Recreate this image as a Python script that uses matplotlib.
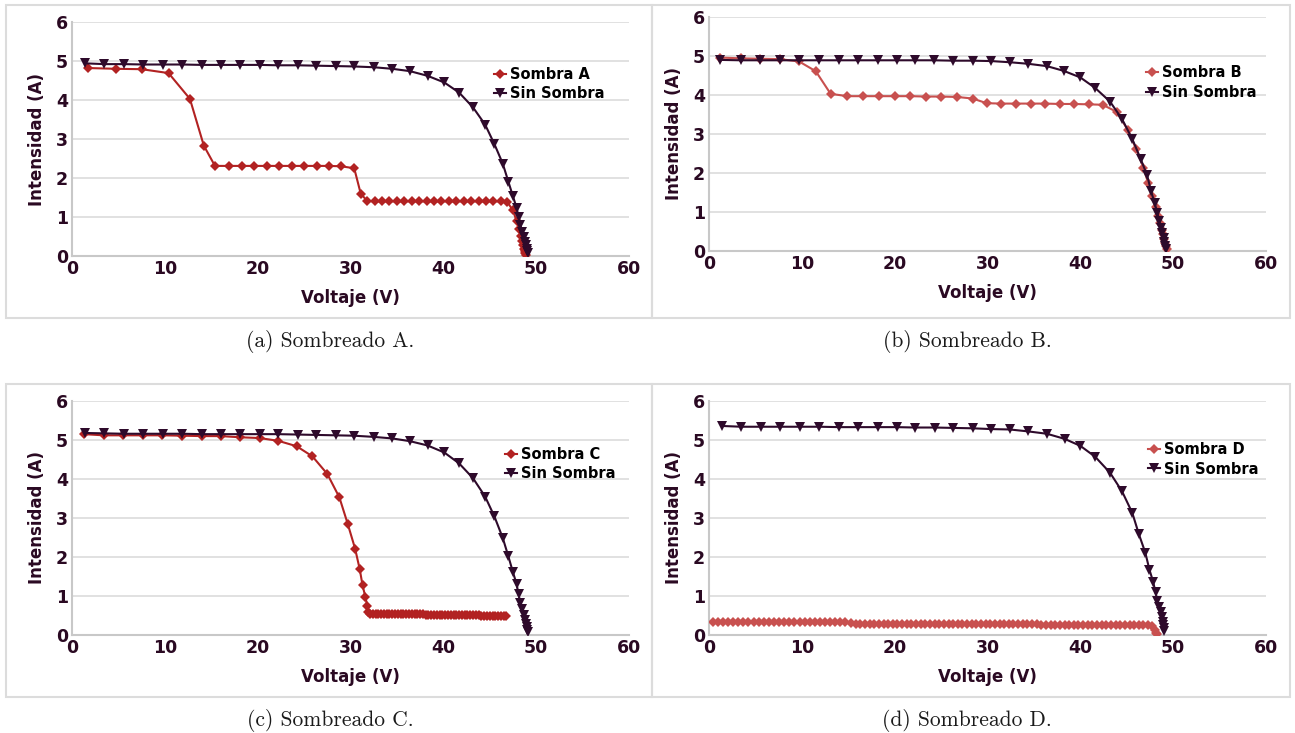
import matplotlib
matplotlib.use("Agg")
import matplotlib.pyplot as plt
from matplotlib.patches import Rectangle

# Curvas I-V: tensión (V) e intensidad (A)

# Sin sombra (referencia) de cada ensayo
v_sin_a = [1.4, 3.5, 5.6, 7.7, 9.8, 11.9, 14.0, 16.1, 18.1, 20.2, 22.2, 24.3, 26.3, 28.4, 30.4, 32.5,
           34.5, 36.4, 38.3, 40.1, 41.7, 43.2, 44.5, 45.5, 46.4, 47.0, 47.5, 47.9, 48.1, 48.3, 48.5,
           48.7, 48.8, 48.9, 49.0, 49.05, 49.1]
i_sin_a = [4.94, 4.92, 4.92, 4.91, 4.91, 4.91, 4.90, 4.90, 4.90, 4.90, 4.89, 4.89, 4.88, 4.87, 4.86,
           4.84, 4.80, 4.74, 4.62, 4.45, 4.19, 3.81, 3.37, 2.87, 2.37, 1.91, 1.53, 1.23, 1.00, 0.79,
           0.62, 0.49, 0.37, 0.27, 0.19, 0.13, 0.08]

v_sin_b = [1.2, 3.4, 5.5, 7.6, 9.7, 11.8, 14.0, 16.0, 18.2, 20.2, 22.2, 24.2, 26.3, 28.4, 30.4, 32.4,
           34.4, 36.4, 38.2, 40.0, 41.6, 43.2, 44.5, 45.6, 46.5, 47.2, 47.6, 48.0, 48.3, 48.5, 48.7,
           48.8, 49.0, 49.05, 49.1, 49.2]
i_sin_b = [4.90, 4.89, 4.89, 4.89, 4.89, 4.89, 4.89, 4.89, 4.89, 4.89, 4.89, 4.89, 4.88, 4.88, 4.87,
           4.84, 4.80, 4.74, 4.62, 4.45, 4.18, 3.83, 3.38, 2.87, 2.36, 1.94, 1.55, 1.23, 0.98, 0.77,
           0.60, 0.47, 0.34, 0.24, 0.14, 0.06]

v_sin_c = [1.4, 3.5, 5.6, 7.7, 9.8, 11.9, 14.0, 16.1, 18.1, 20.2, 22.2, 24.3, 26.3, 28.4, 30.4, 32.5,
           34.5, 36.4, 38.3, 40.1, 41.7, 43.2, 44.5, 45.5, 46.4, 47.0, 47.5, 47.9, 48.1, 48.3, 48.5,
           48.7, 48.8, 48.9, 49.0, 49.05, 49.1]
i_sin_c = [5.18, 5.17, 5.16, 5.16, 5.16, 5.16, 5.15, 5.15, 5.15, 5.15, 5.15, 5.14, 5.13, 5.12, 5.11,
           5.08, 5.04, 4.97, 4.86, 4.68, 4.40, 4.02, 3.55, 3.04, 2.49, 2.02, 1.61, 1.30, 1.04, 0.83,
           0.66, 0.52, 0.39, 0.28, 0.20, 0.14, 0.08]

v_sin_d = [1.4, 3.5, 5.6, 7.7, 9.8, 11.9, 14.0, 16.0, 18.2, 20.2, 22.2, 24.3, 26.3, 28.4, 30.4, 32.4,
           34.4, 36.4, 38.3, 40.0, 41.6, 43.2, 44.5, 45.6, 46.3, 47.0, 47.45, 47.85, 48.1, 48.3, 48.5,
           48.65, 48.8, 48.9, 48.95, 49.0, 49.05]
i_sin_d = [5.36, 5.34, 5.34, 5.34, 5.34, 5.34, 5.33, 5.33, 5.33, 5.33, 5.32, 5.32, 5.31, 5.30, 5.28,
           5.27, 5.22, 5.16, 5.03, 4.85, 4.57, 4.16, 3.68, 3.13, 2.59, 2.11, 1.67, 1.36, 1.09, 0.88,
           0.71, 0.58, 0.45, 0.34, 0.25, 0.17, 0.10]

# Con sombra
v_a = [1.7, 4.7, 7.5, 10.4, 12.7, 14.2, 15.4, 16.9, 18.3, 19.6, 21.0, 22.3, 23.7, 25.0, 26.4, 27.7,
       29.0, 30.4, 31.1, 31.8, 32.6, 33.4, 34.2, 35.0, 35.8, 36.6, 37.4, 38.2, 39.0, 39.8, 40.6, 41.4,
       42.2, 43.0, 43.8, 44.6, 45.4, 46.2, 46.9, 47.5, 47.9, 48.2, 48.35, 48.5, 48.6, 48.7, 48.8,
       48.85, 48.9]
i_a = [4.82, 4.80, 4.79, 4.69, 4.03, 2.83, 2.31, 2.31, 2.31, 2.31, 2.31, 2.31, 2.31, 2.31, 2.31, 2.31,
       2.30, 2.25, 1.60, 1.41, 1.40, 1.40, 1.40, 1.40, 1.40, 1.40, 1.40, 1.40, 1.40, 1.40, 1.40, 1.40,
       1.40, 1.40, 1.40, 1.40, 1.40, 1.40, 1.38, 1.17, 0.89, 0.68, 0.51, 0.38, 0.27, 0.19, 0.12,
       0.07, 0.03]

v_b = [1.2, 3.4, 5.5, 7.6, 9.7, 11.5, 13.1, 14.9, 16.6, 18.3, 20.0, 21.7, 23.4, 25.0, 26.7, 28.4,
       29.9, 31.5, 33.1, 34.7, 36.2, 37.8, 39.3, 40.9, 42.4, 43.9, 45.1, 46.0, 46.8, 47.3, 47.7, 48.1,
       48.4, 48.6, 48.75, 48.9, 49.05, 49.1, 49.2, 49.3]
i_b = [4.96, 4.94, 4.93, 4.92, 4.86, 4.61, 4.03, 3.97, 3.97, 3.97, 3.97, 3.97, 3.96, 3.96, 3.95, 3.91,
       3.79, 3.78, 3.78, 3.78, 3.78, 3.77, 3.77, 3.76, 3.75, 3.57, 3.11, 2.62, 2.14, 1.74, 1.40, 1.13,
       0.89, 0.72, 0.55, 0.43, 0.32, 0.21, 0.13, 0.06]

v_c = [1.3, 3.4, 5.5, 7.6, 9.7, 11.9, 14.0, 16.0, 18.1, 20.2, 22.2, 24.2, 25.9, 27.5, 28.8, 29.7,
       30.5, 31.0, 31.3, 31.6, 31.8, 31.9,
       32.1, 32.4, 32.7, 33.0, 33.3, 33.6, 33.9, 34.2, 34.5, 34.8, 35.1, 35.4, 35.7, 36.0, 36.3, 36.6,
       36.9, 37.2, 37.5, 37.8, 38.1, 38.4, 38.7, 39.0, 39.3, 39.6, 39.9, 40.2, 40.5, 40.8, 41.1, 41.4,
       41.7, 42.0, 42.3, 42.6, 42.9, 43.2, 43.5, 43.8, 44.1, 44.4, 44.7, 45.0, 45.3, 45.6, 45.9, 46.2,
       46.5, 46.8]
i_c = [5.15, 5.12, 5.12, 5.12, 5.12, 5.11, 5.10, 5.10, 5.07, 5.05, 4.98, 4.84, 4.58, 4.13, 3.53, 2.85,
       2.21, 1.68, 1.27, 0.98, 0.75, 0.60,
       0.55, 0.54, 0.54, 0.54, 0.54, 0.54, 0.54, 0.54, 0.54, 0.53, 0.53, 0.53, 0.53, 0.53, 0.53, 0.53,
       0.53, 0.53, 0.53, 0.53, 0.52, 0.52, 0.52, 0.52, 0.52, 0.52, 0.52, 0.52, 0.52, 0.52, 0.51, 0.51,
       0.51, 0.51, 0.51, 0.51, 0.51, 0.51, 0.51, 0.51, 0.50, 0.50, 0.50, 0.50, 0.50, 0.50, 0.49, 0.49,
       0.49, 0.49]

v_d = [0.4, 0.95, 1.5, 2.05, 2.6, 3.15, 3.7, 4.25, 4.8, 5.35, 5.9, 6.45, 7.0, 7.55, 8.1, 8.65, 9.2,
       9.75, 10.3, 10.85, 11.4, 11.95, 12.5, 13.05, 13.6, 14.15, 14.7, 15.25,
       15.8, 16.3, 16.8, 17.3, 17.8, 18.3, 18.8, 19.3, 19.8, 20.3, 20.8, 21.3, 21.8, 22.3, 22.8, 23.3,
       23.8, 24.3, 24.8, 25.3, 25.8, 26.3, 26.8, 27.3, 27.8, 28.3, 28.8, 29.3, 29.8, 30.3, 30.8, 31.3,
       31.8, 32.3, 32.8, 33.3, 33.8, 34.3, 34.8, 35.3, 35.8, 36.3, 36.8, 37.3, 37.8, 38.3, 38.8, 39.3,
       39.8, 40.3, 40.8, 41.3, 41.8, 42.3, 42.8, 43.3, 43.8, 44.3, 44.8, 45.3, 45.8, 46.3, 46.8, 47.3,
       47.7, 48.0, 48.2, 48.3]
i_d = [0.345, 0.345, 0.345, 0.345, 0.345, 0.345, 0.34, 0.34, 0.34, 0.34, 0.34, 0.34, 0.34, 0.34,
       0.34, 0.34, 0.34, 0.34, 0.34, 0.34, 0.335, 0.335, 0.335, 0.335, 0.335, 0.335, 0.33, 0.31,
       0.28, 0.28, 0.28, 0.28, 0.275, 0.275, 0.275, 0.275, 0.275, 0.275, 0.275, 0.275, 0.275, 0.275,
       0.275, 0.275, 0.27, 0.27, 0.27, 0.27, 0.27, 0.27, 0.27, 0.27, 0.27, 0.27, 0.27, 0.27, 0.27,
       0.27, 0.27, 0.27, 0.27, 0.27, 0.27, 0.27, 0.27, 0.27, 0.27, 0.27, 0.265, 0.265, 0.265, 0.265,
       0.265, 0.265, 0.265, 0.265, 0.265, 0.265, 0.265, 0.265, 0.265, 0.265, 0.265, 0.265, 0.26, 0.26,
       0.26, 0.26, 0.26, 0.26, 0.26, 0.26,
       0.22, 0.14, 0.06, 0.03]

TXT = "#2a0922"
OSCURO = "#2e0a2b"
ROJO = "#b22222"
ROJO_CLARO = "#c8504f"
GRIS = "#d9d9d9"

fig = plt.figure(figsize=(12.95, 7.33), dpi=100)
W, H = 1295, 733

# Marcos grises alrededor de cada sub-figura (en pixeles)
for x0, y0, x1, y1 in [(5.5, 5, 651.5, 318), (651.5, 5, 1290, 318),
                       (5.5, 384, 651.5, 697), (651.5, 384, 1290, 697)]:
    fig.add_artist(Rectangle((x0 / W, 1 - y1 / H), (x1 - x0) / W, (y1 - y0) / H,
                             transform=fig.transFigure, fill=False, ec="#dcdcdc", lw=1.5))

paneles = [
    # (left px, top px, v, i, v_ref, i_ref, etiqueta, color, legend anchor, caption)
    (72, 22, v_a, i_a, v_sin_a, i_sin_a, "Sombra A", ROJO, (0.745, 0.84), "(a) Sombreado A."),
    (709, 17, v_b, i_b, v_sin_b, i_sin_b, "Sombra B", ROJO_CLARO, (0.772, 0.825), "(b) Sombreado B."),
    (72, 401, v_c, i_c, v_sin_c, i_sin_c, "Sombra C", ROJO, (0.765, 0.835), "(c) Sombreado C."),
    (709, 401, v_d, i_d, v_sin_d, i_sin_d, "Sombra D", ROJO_CLARO, (0.775, 0.855), "(d) Sombreado D."),
]

for left, top, v, i, v_ref, i_ref, etiqueta, color, anchor, caption in paneles:
    ax = fig.add_axes([left / W, 1 - (top + 234) / H, 557 / W, 234 / H])
    ax.plot(v, i, color=color, lw=1.5, marker="D", ms=4.6, mew=0, label=etiqueta, zorder=3)
    ax.plot(v_ref, i_ref, color=OSCURO, lw=1.5, marker="v", ms=6.5, mew=0, label="Sin Sombra", zorder=4)

    ax.set_xlim(0, 60)
    ax.set_ylim(0, 6)
    ax.set_xticks(range(0, 61, 10))
    ax.set_yticks(range(0, 7))
    ax.grid(axis="y", color=GRIS, lw=1.1)
    ax.set_axisbelow(True)
    for s in ["top", "right"]:
        ax.spines[s].set_visible(False)
    for s in ["left", "bottom"]:
        ax.spines[s].set_color("#c8c8c8")
        ax.spines[s].set_linewidth(1.5)
    ax.tick_params(length=0, labelsize=12.5, labelcolor=TXT, pad=3)
    for lab in ax.get_xticklabels() + ax.get_yticklabels():
        lab.set_fontweight("bold")
    ax.set_xlabel("Voltaje (V)", fontsize=12, fontweight="bold", color=TXT, labelpad=8)
    ax.set_ylabel("Intensidad (A)", fontsize=12, fontweight="bold", color=TXT, labelpad=7)

    leg = ax.legend(loc="upper left", bbox_to_anchor=anchor, frameon=False, fontsize=10.5,
                    handlelength=0.8, handletextpad=0.3, labelspacing=0.3, borderpad=0)
    for t in leg.get_texts():
        t.set_fontweight("bold")
        t.set_color("black")

    cx = (left + 258) / W
    cy = 1 - (341 if top < 100 else 720) / H
    fig.text(cx, cy, caption, ha="center", va="center", fontsize=15.5, family="cmr10", color="#1a1a1a")

fig.savefig("out.png", dpi=100)
